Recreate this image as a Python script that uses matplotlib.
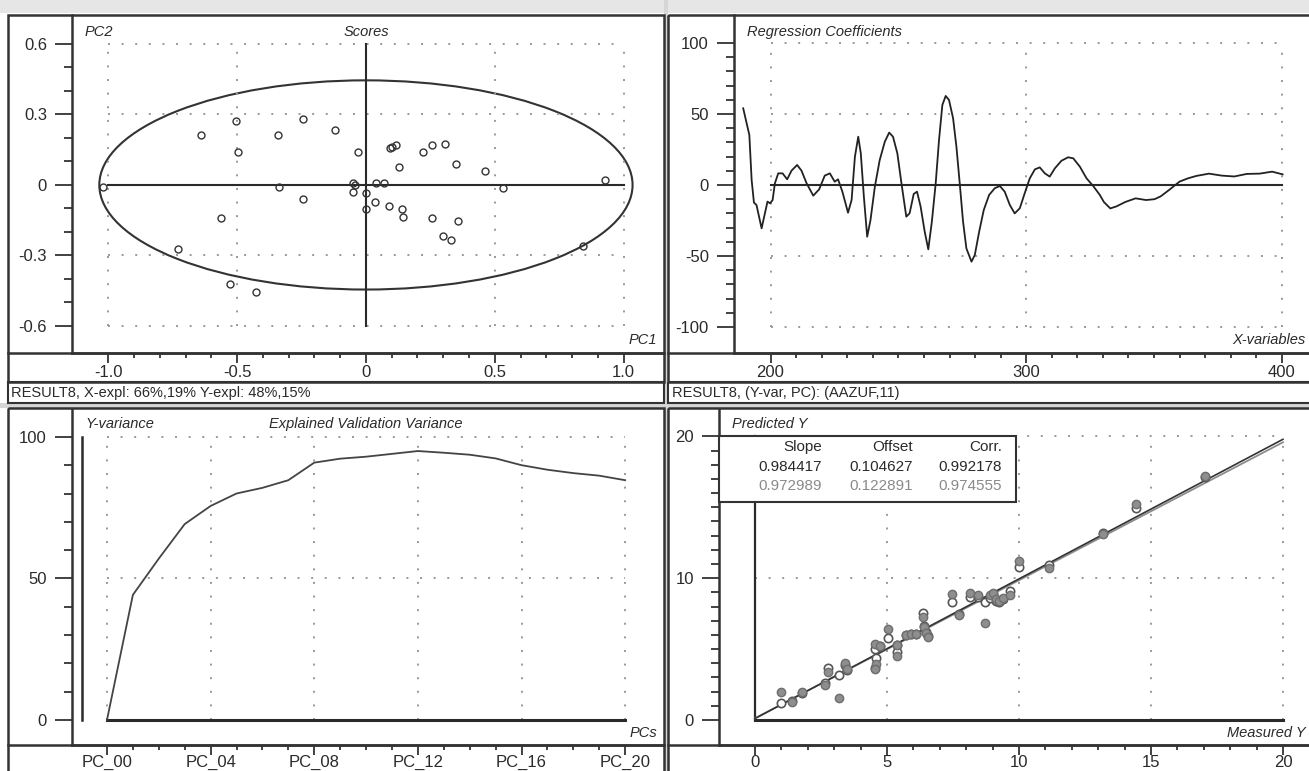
import numpy as np
import matplotlib
matplotlib.use("Agg")
import matplotlib.pyplot as plt
from matplotlib.patches import Ellipse, Rectangle
from matplotlib.ticker import FixedLocator

plt.rcParams['font.family'] = ['Liberation Sans', 'DejaVu Sans']

# ---- data ----
# Scores (PC1, PC2)
pc1 = [-1.02, -0.73, -0.642, -0.563, -0.528, -0.505, -0.497, -0.427, -0.343, -0.338,
       -0.243, -0.243, -0.119, -0.052, -0.052, -0.043, -0.030, 0.000, 0.000, 0.035,
       0.039, 0.071, 0.089, 0.093, 0.102, 0.115, 0.129, 0.141, 0.145, 0.223,
       0.255, 0.255, 0.299, 0.308, 0.329, 0.348, 0.358, 0.463, 0.533, 0.842, 0.928]
pc2 = [-0.007, -0.272, 0.213, -0.142, -0.420, 0.272, 0.142, -0.457, 0.213, -0.007,
       0.279, -0.060, 0.234, 0.007, -0.028, 0.000, 0.142, -0.034, -0.104, -0.071,
       0.010, 0.010, -0.089, 0.159, 0.163, 0.170, 0.077, -0.104, -0.138, 0.142,
       0.170, -0.142, -0.217, 0.174, -0.234, 0.088, -0.153, 0.061, -0.011, -0.258, 0.021]
ellipse_a, ellipse_b = 1.035, 0.445

# Regression coefficients vs X-variables
rc_x = [189.3, 191.7, 192.6, 193.5, 194.5, 196.5, 197.8, 198.8, 199.8, 200.8,
        201.7, 203.0, 204.7, 206.5, 208.2, 210.4, 212.1, 214.1, 216.7, 219.0,
        221.2, 223.2, 225.1, 226.4, 228.1, 230.3, 231.7, 233.0, 234.3, 235.3,
        236.5, 237.8, 239.1, 240.8, 242.7, 244.7, 246.4, 247.9, 249.6, 251.2,
        253.1, 254.4, 256.0, 257.3, 258.7, 260.3, 261.7, 263.1, 264.6, 265.9,
        267.2, 268.5, 269.8, 271.4, 272.7, 274.0, 275.3, 276.6, 278.6, 279.9,
        281.6, 283.4, 285.5, 287.7, 289.7, 291.6, 293.6, 295.5, 297.5, 299.4,
        301.4, 303.4, 305.3, 307.3, 309.2, 311.2, 313.8, 316.4, 318.4, 321.0,
        323.6, 326.2, 328.8, 330.4, 332.9, 335.4, 338.7, 342.8, 346.9, 350.2,
        352.6, 355.9, 360.0, 363.3, 366.6, 371.5, 376.5, 381.4, 386.3, 391.3,
        396.2, 400.3]
rc_y = [54.0, 35.2, 3.5, -12.4, -14.1, -30.5, -19.9, -11.7, -12.9, -10.6,
        1.2, 8.2, 8.2, 4.0, 10.1, 14.1, 10.1, 1.2, -7.5, -3.1,
        6.6, 8.2, 2.3, 4.0, -4.7, -19.5, -10.6, 19.9, 34.0, 22.3,
        -8.2, -36.4, -24.6, -1.2, 17.6, 30.5, 36.9, 34.0, 22.3, 1.2,
        -22.3, -19.9, -6.3, -4.7, -15.2, -32.9, -45.3, -25.8, 1.2, 31.7,
        56.3, 62.7, 59.9, 47.0, 27.0, 1.2, -25.8, -44.6, -54.0, -49.3,
        -32.9, -17.6, -7.0, -2.3, -0.7, -4.7, -14.1, -20.0, -16.4, -5.9,
        4.7, 11.0, 12.4, 8.2, 5.9, 11.7, 17.1, 19.5, 18.8, 12.9,
        4.7, -0.7, -7.0, -12.0, -16.5, -15.0, -12.0, -9.4, -10.6, -10.0,
        -8.0, -3.5, 2.4, 4.7, 6.4, 8.0, 6.6, 6.0, 7.8, 8.0,
        9.4, 7.5]

# Explained validation variance per PC
pcs = list(range(21))
pc_labels = ['PC_00', 'PC_04', 'PC_08', 'PC_12', 'PC_16', 'PC_20']
yvar = [0, 44.2, 57, 69.2, 75.6, 80, 82, 84.7, 90.9, 92.3, 93,
        94, 95, 94.4, 93.7, 92.4, 90, 88.4, 87.2, 86.3, 84.7]

# Predicted vs measured
meas = [0.98, 1.39, 1.80, 2.65, 2.75, 3.18, 3.42, 3.47, 4.55, 4.58,
        4.55, 4.73, 5.05, 5.37, 5.40, 5.74, 5.93, 6.12, 6.38, 6.40,
        6.47, 6.55, 7.45, 7.72, 8.14, 8.46, 8.72, 8.90, 9.03, 9.15,
        9.25, 9.41, 9.68, 10.0, 11.15, 13.2, 14.43, 17.05]
pred_cal = [1.2, 1.35, 1.9, 2.6, 3.7, 3.15, 3.9, 3.55, 5.0, 4.36,
            3.7, 5.2, 5.79, 5.3, 4.8, 6.0, 6.05, 6.1, 7.55, 6.6,
            6.2, 5.9, 8.33, 7.5, 8.7, 8.7, 8.3, 8.6, 8.9, 8.4,
            8.35, 8.5, 9.1, 10.8, 10.9, 13.2, 14.95, 17.1]
pred_val = [1.95, 1.3, 1.95, 2.5, 3.4, 1.55, 4.05, 3.62, 5.36, 3.93,
            3.62, 5.24, 6.43, 5.29, 4.5, 6.0, 6.05, 6.1, 7.26, 6.55,
            6.14, 5.85, 8.86, 7.43, 8.93, 8.81, 6.83, 8.81, 8.93, 8.52,
            8.38, 8.62, 8.81, 11.2, 10.7, 13.1, 15.25, 17.2]
stat_names = ['Slope', 'Offset', 'Corr.']
stat_cal = ['0.984417', '0.104627', '0.992178']
stat_val = ['0.972989', '0.122891', '0.974555']
slope_cal, offset_cal = 0.984417, 0.104627
slope_val, offset_val = 0.972989, 0.122891

# ---- layout helpers (pixel coords, origin top-left) ----
W, H = 1309, 771
fig = plt.figure(figsize=(W / 100, H / 100), dpi=100)
fig.patch.set_facecolor('white')
INK = '#2a2a2a'
DOT = (0, (1, 6))


def t(x, y, s, **kw):
    kw.setdefault('color', INK)
    kw.setdefault('va', 'center')
    fig.text(x / W, 1 - y / H, s, **kw)


def panel(x0, y0, x1, y1, xlim, ylim, xpad=2):
    ax = fig.add_axes([x0 / W, 1 - y1 / H, (x1 - x0) / W, (y1 - y0) / H])
    ax.set_facecolor('none')
    ax.set_xlim(*xlim)
    ax.set_ylim(*ylim)
    for s in ('top', 'right'):
        ax.spines[s].set_visible(False)
    for s in ('left', 'bottom'):
        ax.spines[s].set_linewidth(1.8)
        ax.spines[s].set_color('#333')
    ax.tick_params(which='both', direction='out', color='#333', labelcolor=INK,
                   labelsize=12, width=1.3)
    ax.tick_params(axis='y', which='major', length=12, pad=6)
    ax.tick_params(axis='y', which='minor', length=5.5)
    ax.tick_params(axis='x', which='major', length=7, pad=xpad)
    ax.tick_params(axis='x', which='minor', length=3.6)
    return ax


def ticks(ax, xmaj, xlab, xmin, ymaj, ylab, ymin):
    ax.set_xticks(xmaj)
    ax.set_xticklabels(xlab)
    ax.xaxis.set_minor_locator(FixedLocator(xmin))
    ax.set_yticks(ymaj)
    ax.set_yticklabels(ylab)
    ax.yaxis.set_minor_locator(FixedLocator(ymin))


# ---- Scores ----
ax = panel(72, 15, 664, 353, (-1.141, 1.157), (-0.715, 0.723))
ticks(ax, [-1, -0.5, 0, 0.5, 1], ['-1.0', '-0.5', '0', '0.5', '1.0'],
      np.arange(-1, 1.01, 0.1),
      [-0.6, -0.3, 0, 0.3, 0.6], ['-0.6', '-0.3', '0', '0.3', '0.6'],
      np.arange(-0.6, 0.61, 0.1))
ax.hlines([-0.6, -0.3, 0.3, 0.6], -1, 1, colors='#999', linestyles=DOT, lw=1.4)
ax.vlines([-1, -0.5, 0.5, 1], -0.6, 0.6, colors='#999', linestyles=DOT, lw=1.4)
ax.plot([-1, 1], [0, 0], color=INK, lw=1.5)
ax.plot([0, 0], [-0.6, 0.6], color=INK, lw=1.5)
ax.add_patch(Ellipse((0, 0), 2 * ellipse_a, 2 * ellipse_b, fill=False, ec='#333', lw=1.5))
ax.plot(pc1, pc2, 'o', ms=5, mfc='none', mec='#333', mew=1.0)

# ---- Regression coefficients ----
ax = panel(734, 15, 1312, 353, (185.7, 411.8), (-118.3, 119.7))
ticks(ax, [200, 300, 400], ['200', '300', '400'], np.arange(200, 401, 10),
      [-100, -50, 0, 50, 100], ['-100', '-50', '0', '50', '100'],
      np.arange(-100, 101, 10))
ax.hlines([-100, -50, 50, 100], 200, 400, colors='#999', linestyles=DOT, lw=1.4)
ax.vlines([200, 300, 400], -100, 100, colors='#999', linestyles=DOT, lw=1.4)
ax.plot([200, 400], [0, 0], color=INK, lw=1.5)
ax.plot(rc_x, rc_y, color='#222', lw=1.3)

# ---- Explained validation variance ----
ax = panel(72, 408, 664, 745, (-1.35, 21.5), (-8.83, 110.2), xpad=0)
ticks(ax, [0, 4, 8, 12, 16, 20], pc_labels, pcs,
      [0, 50, 100], ['0', '50', '100'], np.arange(0, 101, 10))
ax.hlines([50, 100], 0, 20, colors='#999', linestyles=DOT, lw=1.4)
ax.vlines([0, 4, 8, 12, 16, 20], 0, 100, colors='#999', linestyles=DOT, lw=1.4)
ax.plot([-0.97, -0.97], [0, 100], color=INK, lw=1.8)
ax.plot([0, 20], [0, 0], color=INK, lw=2.2)
ax.plot(pcs, yvar, color='#444', lw=1.3)

# ---- Predicted vs measured ----
ax = panel(719, 408, 1312, 745, (-1.36, 21.1), (-1.76, 22.0), xpad=0)
ticks(ax, [0, 5, 10, 15, 20], ['0', '5', '10', '15', '20'], np.arange(0, 21, 1),
      [0, 10, 20], ['0', '10', '20'], np.arange(0, 21, 1))
ax.hlines([10, 20], 0, 20, colors='#999', linestyles=DOT, lw=1.4)
ax.vlines([5, 10, 15, 20], 0, 20, colors='#999', linestyles=DOT, lw=1.4)
ax.plot([0, 20], [0, 0], color=INK, lw=2.2)
ax.plot([0, 0], [0, 20], color=INK, lw=1.6)
xs = np.array([0, 20])
ax.plot(xs, slope_val * xs + offset_val, color='#8c8c8c', lw=1.3)
ax.plot(xs, slope_cal * xs + offset_cal, color='#333', lw=1.2)
ax.plot(meas, pred_cal, 'o', ms=6, mfc='white', mec='#555', mew=1.2)
ax.plot(meas, pred_val, 'o', ms=6, mfc='#8e8e8e', mec='#6e6e6e', mew=1.0)

# ---- window frames on top ----
ov = fig.add_axes([0, 0, 1, 1])
ov.set_xlim(0, W)
ov.set_ylim(H, 0)
ov.axis('off')
ov.patch.set_visible(False)
ov.add_patch(Rectangle((0, 0), W, 13, fc='#e6e6e6', ec='none'))
ov.add_patch(Rectangle((664, 0), 4, H, fc='#d6d6d6', ec='none'))
ov.add_patch(Rectangle((0, 403), W, 5, fc='#d6d6d6', ec='none'))
for x0, x1 in ((8, 664), (668, 1314)):
    ov.add_patch(Rectangle((x0, 15), x1 - x0, 367, fill=False, ec='#333', lw=1.8))
    ov.add_patch(Rectangle((x0, 382), x1 - x0, 21, fill=False, ec='#333', lw=1.5))
    ov.add_patch(Rectangle((x0, 408), x1 - x0, 370, fill=False, ec='#333', lw=1.8))
    ov.plot([x0, x1], [353, 353], color='#333', lw=1.8)
    ov.plot([x0, x1], [745, 745], color='#333', lw=1.8)
ov.add_patch(Rectangle((719, 436), 297, 66, fc='white', ec='#333', lw=1.5))

# ---- texts ----
it = dict(style='italic', fontsize=10.5)
t(85, 32, 'PC2', ha='left', **it)
t(366, 32, 'Scores', ha='center', **it)
t(657, 340, 'PC1', ha='right', **it)
t(747, 32, 'Regression Coefficients', ha='left', **it)
t(1306, 340, 'X-variables', ha='right', **it)
t(85, 424, 'Y-variance', ha='left', **it)
t(366, 424, 'Explained Validation Variance', ha='center', **it)
t(657, 733, 'PCs', ha='right', **it)
t(732, 424, 'Predicted Y', ha='left', **it)
t(1306, 733, 'Measured Y', ha='right', **it)
t(11, 393, 'RESULT8, X-expl: 66%,19% Y-expl: 48%,15%', ha='left', fontsize=10.5)
t(672, 393, 'RESULT8, (Y-var, PC): (AAZUF,11)', ha='left', fontsize=10.5)

for cx, name, c1, c2 in zip([822, 913, 1002], stat_names, stat_cal, stat_val):
    t(cx, 447, name, ha='right', fontsize=11)
    t(cx, 467, c1, ha='right', fontsize=11)
    t(cx, 486, c2, ha='right', fontsize=11, color='#8a8a8a')

fig.savefig('out.png', dpi=100)
